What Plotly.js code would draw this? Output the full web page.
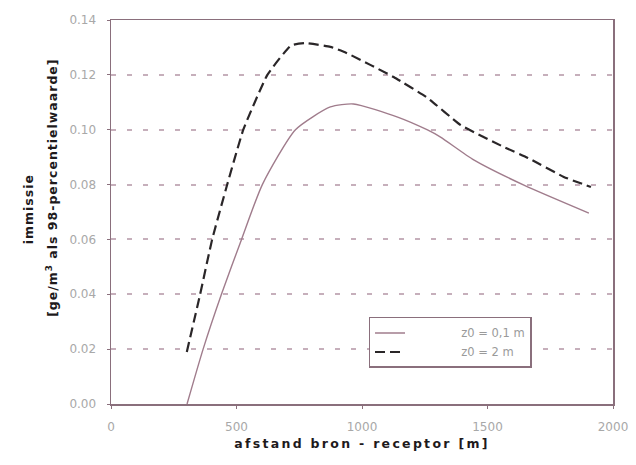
<!DOCTYPE html>
<html><head><meta charset="utf-8">
<script src="https://cdn.plot.ly/plotly-3.0.1.min.js"></script>
<style>
body{margin:0;background:#fff}#c{width:636px;height:465px}
.xtitle{letter-spacing:2.3px}
.annotation-text{letter-spacing:1px}
</style>
</head><body><div id="c"></div>
<script>
const seriesNames = ["z0 = 0,1 m", "z0 = 2 m"];
const xSolid = [303, 367, 440, 520, 603, 735, 874, 966, 1142, 1261, 1313, 1445, 1645, 1904];
const ySolid = [0.000, 0.020, 0.040, 0.060, 0.080, 0.100, 0.1083, 0.1094, 0.1046, 0.0999, 0.0973, 0.0890, 0.0798, 0.0696];
const xDash = [302, 355, 403, 463, 527, 623, 717, 774, 874, 938, 1126, 1261, 1393, 1565, 1661, 1804, 1912];
const yDash = [0.019, 0.040, 0.060, 0.080, 0.100, 0.120, 0.1307, 0.1316, 0.1302, 0.1280, 0.1192, 0.1116, 0.1017, 0.0937, 0.0897, 0.0828, 0.0791];
const yTicks = [0, 0.02, 0.04, 0.06, 0.08, 0.10, 0.12, 0.14];
const xTicks = [0, 500, 1000, 1500, 2000];
const yTitleLines = ["immissie", "[ge/m<sup>3</sup> als 98-percentielwaarde]"];
const xTitle = "afstand bron - receptor [m]";

const axisColor = '#8a6f7c';
const titleFont = {family: 'DejaVu Sans, sans-serif', size: 12.5, color: '#1e1a1c', weight: 'bold'};
const pad = '\u00A0'.repeat(14);
const data = [
  {x: xSolid, y: ySolid, name: pad + seriesNames[0], mode: 'lines', line: {color: '#a07c8c', width: 1.4, shape: 'spline', smoothing: 0.6}},
  {x: xDash, y: yDash, name: pad + seriesNames[1], mode: 'lines', line: {color: '#2a2628', width: 2.2, dash: '10px,5px', shape: 'spline', smoothing: 0.4}}
];
const layout = {
  width: 636, height: 465,
  margin: {l: 111, r: 23, t: 20, b: 61},
  paper_bgcolor: '#fff', plot_bgcolor: '#fff',
  font: {family: 'DejaVu Sans, sans-serif', color: '#9a9a9a', size: 11},
  showlegend: true,
  legend: {x: 0.513, y: 0.2266, xanchor: 'left', yanchor: 'top', bordercolor: axisColor, borderwidth: 1.5,
           bgcolor: '#fff', font: {size: 11.5, color: '#9a9a9a'}, tracegroupgap: 0},
  xaxis: {range: [0, 2000], tickvals: xTicks, ticks: 'outside', ticklen: 3, tickcolor: axisColor,
          showgrid: false, zeroline: false, showline: true, linecolor: axisColor, linewidth: 1.5, mirror: true,
          tickfont: {size: 12, color: '#a8a8a8'}, ticklabelstandoff: 8,
          title: {text: xTitle, font: titleFont, standoff: 6}},
  yaxis: {range: [0, 0.14], tickvals: yTicks, tickformat: '.2f', ticks: 'outside', ticklen: 3, tickcolor: axisColor,
          showgrid: true, gridcolor: '#c6afbb', griddash: '5px,11px', gridwidth: 2,
          zeroline: false, showline: true, linecolor: axisColor, linewidth: 1.5, mirror: true,
          tickfont: {size: 12, color: '#a8a8a8'}, ticklabelstandoff: 8},
  annotations: [
    {text: yTitleLines[0], xref: 'paper', yref: 'paper', x: -0.1816, y: 0.508, textangle: -90, showarrow: false, font: titleFont},
    {text: yTitleLines[1], xref: 'paper', yref: 'paper', x: -0.1377, y: 0.5625, textangle: -90, showarrow: false, font: titleFont}
  ]
};
Plotly.newPlot('c', data, layout, {displayModeBar: false, staticPlot: true});
</script></body></html>
